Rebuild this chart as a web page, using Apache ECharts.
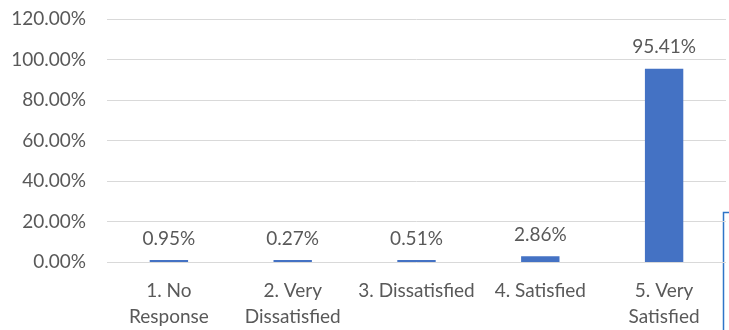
<!DOCTYPE html>
<html>
<head>
<meta charset="utf-8">
<script src="https://cdn.jsdelivr.net/npm/echarts@6/dist/echarts.min.js"></script>
<style>
  html, body { margin: 0; padding: 0; background: #ffffff; }
  #chart { width: 729px; height: 330px; }
</style>
</head>
<body>
<div id="chart"></div>
<script>
// Survey responses: share of respondents per satisfaction level (percent)
const categories = ['1. No\nResponse', '2. Very\nDissatisfied', '3. Dissatisfied', '4. Satisfied', '5. Very\nSatisfied'];
const shares = [0.95, 0.27, 0.51, 2.86, 95.41];
const yTicks = { min: 0, max: 120, interval: 20 };

const textColor = '#595959';
const fontFamily = 'Lato, "Open Sans", sans-serif';

const chart = echarts.init(document.getElementById('chart'), null, { renderer: 'canvas' });
chart.setOption({
  animation: false,
  backgroundColor: '#ffffff',
  grid: { left: 107, right: 3, top: 19, bottom: 65, containLabel: false },
  xAxis: {
    type: 'category',
    data: categories,
    axisLine: { show: false },
    axisTick: { show: false },
    axisLabel: {
      color: textColor, fontFamily, fontSize: 19, lineHeight: 26,
      margin: 16, interval: 0, align: 'center'
    }
  },
  yAxis: {
    type: 'value',
    min: yTicks.min, max: yTicks.max, interval: yTicks.interval,
    axisLine: { show: false },
    axisTick: { show: false },
    splitLine: { lineStyle: { color: '#d9d9d9', width: 1 } },
    axisLabel: {
      color: textColor, fontFamily, fontSize: 19, margin: 21,
      formatter: v => v.toFixed(2) + '%'
    }
  },
  series: [{
    type: 'bar',
    data: shares,
    barWidth: '31%',
    barMinHeight: 2,
    itemStyle: { color: '#4472c4' },
    label: {
      show: true, position: 'top', distance: 12,
      color: textColor, fontFamily, fontSize: 19,
      formatter: p => p.value.toFixed(2) + '%'
    }
  }],
  graphic: [{
    type: 'polyline',
    shape: { points: [[723.5, 330], [723.5, 212.5], [729, 212.5]] },
    style: { stroke: '#2e75c8', lineWidth: 1.5, fill: null },
    silent: true
  }]
});
</script>
</body>
</html>
